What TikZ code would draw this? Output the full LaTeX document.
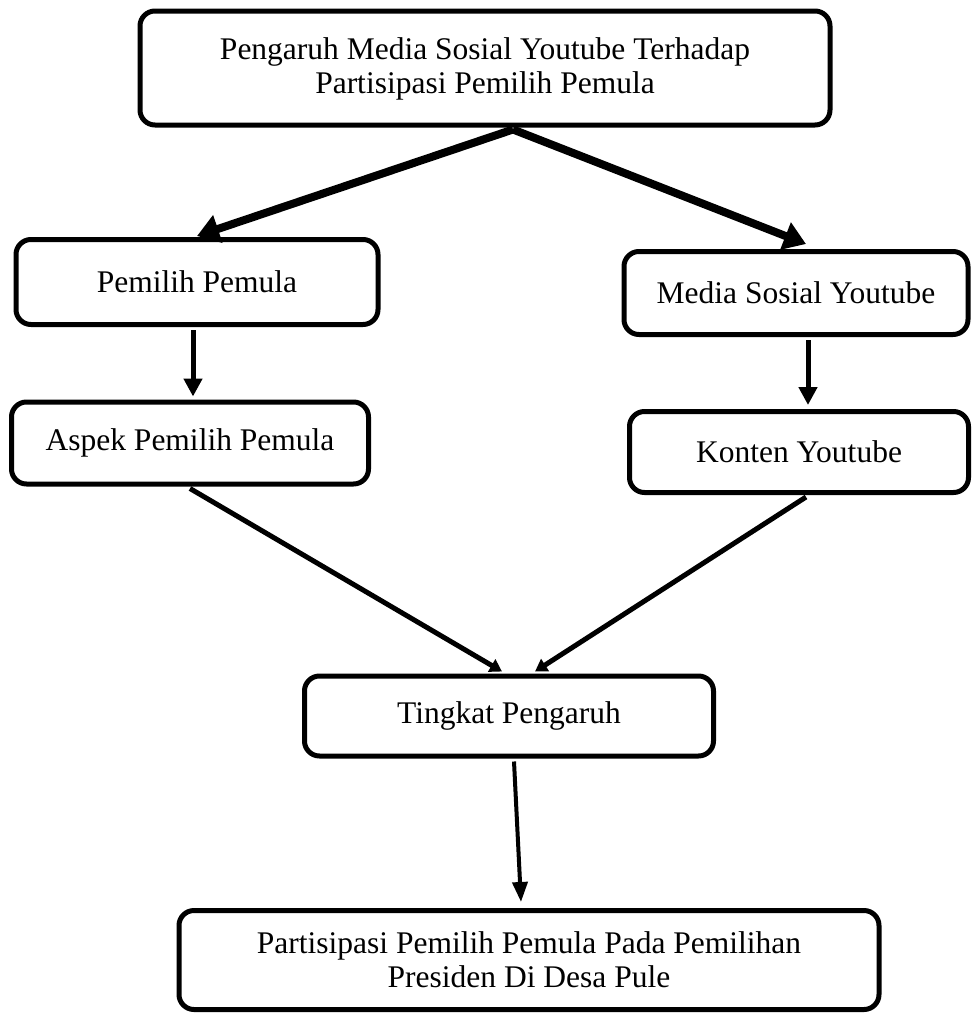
\documentclass[tikz,border=0pt]{standalone}
\usepackage{fontspec}
\setmainfont{Liberation Serif}
\usetikzlibrary{arrows.meta,calc}

\begin{document}
\begin{tikzpicture}[x=1pt,y=-1pt,
      bx/.style={draw,line width=5pt,rounded corners=15pt,align=center,
                 inner sep=0pt,font=\fontsize{31.5}{34}\selectfont},
      arbig/.style={line width=8pt,-{Triangle[length=22pt,width=28pt]}},
      ar/.style={line width=5pt,-{Triangle[length=18pt,width=18pt]}},
      arsm/.style={line width=5pt,-{Triangle[length=12pt,width=14pt]}},
      arlo/.style={line width=4pt,-{Triangle[length=20pt,width=15pt]}}]

    \useasboundingbox (0,0) rectangle (973,1015);

    % ================= boxes =================
    \node[bx,minimum width=690pt,minimum height=114pt] (judul) at (485,68)
      {\strut Pengaruh Media Sosial Youtube Terhadap\\ Partisipasi Pemilih Pemula};

    \node[bx,minimum width=362pt,minimum height=85pt] (pemilih) at (197,282)
      {Pemilih Pemula};
    \node[bx,minimum width=344pt,minimum height=83pt] (media) at (796,293)
      {Media Sosial Youtube};

    \node[bx,minimum width=357pt,minimum height=82pt] (aspek) at (190,443)
      {Aspek Pemilih Pemula};
    \node[bx,minimum width=339pt,minimum height=81pt] (konten) at (799,452)
      {Konten Youtube};

    \node[bx,minimum width=409pt,minimum height=80pt] (tingkat) at (509,716)
      {Tingkat Pengaruh};

    \node[bx,minimum width=700pt,minimum height=99pt] (akhir) at (529,960)
      {Partisipasi Pemilih Pemula Pada Pemilihan\\ Presiden Di Desa Pule};

    % ================= connectors =================
    \draw[arbig] ($(judul.south)+(28,2)$) -- ($(pemilih.north)+(0,-1)$);
    \draw[arbig] ($(judul.south)+(28,2)$) -- ($(media.north)+(10,-5)$);

    \draw[ar] ($(pemilih.south)+(-4,3)$) -- ($(aspek.north)+(3,-3)$);
    \draw[ar] ($(media.south)+(12,3)$) -- ($(konten.north)+(9,-4)$);

    \draw[arsm] ($(aspek.south)+(0,2)$) -- ($(tingkat.north)+(-7,-2)$);
    \draw[arsm] ($(konten.south)+(7,2)$) -- ($(tingkat.north)+(26,-2)$);

    \draw[arlo] ($(tingkat.south)+(5,3)$) -- ($(akhir.north)+(-8,-6)$);
  \end{tikzpicture}
\end{document}
